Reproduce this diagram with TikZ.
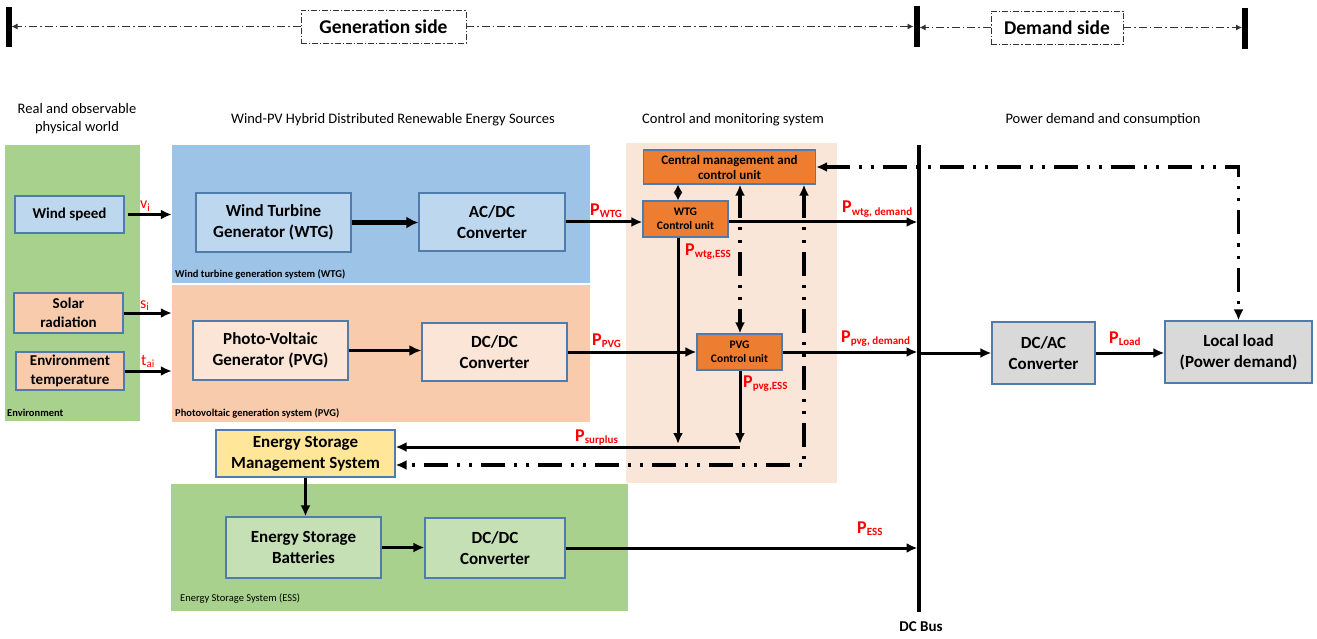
\documentclass[tikz,border=0pt]{standalone}
\usepackage{fontspec}
\setmainfont{Carlito}
\usetikzlibrary{arrows.meta}
\definecolor{envgreen}{HTML}{A9D18E}
\definecolor{windblue}{HTML}{9DC3E6}
\definecolor{lightblue}{HTML}{BDD7EE}
\definecolor{pvpeach}{HTML}{F8CBAD}
\definecolor{lightpeach}{HTML}{FBE5D6}
\definecolor{ctrlbg}{HTML}{FAE6D9}
\definecolor{orangebox}{HTML}{ED7D31}
\definecolor{yellowbox}{HTML}{FFE699}
\definecolor{essbox}{HTML}{C5E0B4}
\definecolor{greybox}{HTML}{D9D9D9}
\definecolor{boxline}{HTML}{4F7CAC}
\definecolor{labred}{HTML}{FF0000}
\newcommand\PowLab[1]{\textcolor{labred}{\bfseries\fontsize{18}{18}\selectfont P\raisebox{-2.5pt}{\fontsize{11}{11}\selectfont #1}}}
\newcommand\SigLab[2]{\textcolor{labred}{\fontsize{16}{16}\selectfont #1\raisebox{-2.5pt}{\fontsize{11}{11}\selectfont #2}}}
\begin{document}
\begin{tikzpicture}[x=1pt,y=-1pt,
  panel/.style={draw=none, inner sep=0pt},
  box/.style={draw=boxline, line width=1.2pt, align=center, inner sep=0pt,
    font=\fontsize{17}{21}\selectfont\bfseries},
  cubox/.style={draw=boxline, line width=1.2pt, align=center, inner sep=0pt, fill=orangebox,
    font=\fontsize{11.5}{14}\selectfont\bfseries},
  head/.style={align=center, inner sep=0pt, font=\fontsize{14.5}{18}\selectfont},
  plab/.style={inner sep=0pt, anchor=west, font=\fontsize{10.5}{12}\selectfont\bfseries},
  plabn/.style={inner sep=0pt, anchor=west, font=\fontsize{10.5}{12}\selectfont},
  lab/.style={inner sep=0pt, anchor=base west},
  sidebox/.style={draw=black!80, line width=0.8pt, dash pattern=on 6pt off 2pt on 1.2pt off 2pt,
    fill=white, inner sep=0pt, font=\fontsize{19.5}{22}\selectfont\bfseries},
  bd/.style={line width=0.9pt, draw=black!80, dash pattern=on 8pt off 3pt on 1.5pt off 3pt,
    -{Latex[length=6pt,width=6pt]}},
  arr/.style={line width=3pt, -{Latex[length=11pt,width=10pt]}},
  dd/.style={line width=3.2pt, dash pattern=on 24pt off 9pt on 3pt off 9pt on 3pt off 9pt}
]
\useasboundingbox (0,0) rectangle (1317,639);

% ---------- banner ----------
\draw[line width=6pt] (8.5,7) -- (8.5,47);
\draw[line width=6pt] (916.5,6) -- (916.5,47);
\draw[line width=6pt] (1245,8) -- (1245,49);
\coordinate (lbr) at (11.5,26.5);
\coordinate (mbl) at (913.5,26.5);
\coordinate (mbr) at (919.5,27.5);
\coordinate (rbl) at (1242,27.5);
\node[sidebox, minimum width=165pt, minimum height=33pt] (gen) at (383.5,26.5) {Generation side};
\node[sidebox, minimum width=132pt, minimum height=33pt] (dem) at (1057,27.5) {Demand side};
\draw[bd] (gen.west) -- (lbr);
\draw[bd] (gen.east) -- (mbl);
\draw[bd] (dem.west) -- (mbr);
\draw[bd] (dem.east) -- (rbl);

% ---------- headings ----------
\node[head] (h1) at (77,119) {Real and observable\\physical world};
\node[head] (h2) at (393,120) {Wind-PV Hybrid Distributed Renewable Energy Sources};
\node[head] (h3) at (733,120) {Control and monitoring system};
\node[head] (h4) at (1103,120) {Power demand and consumption};

% ---------- panels ----------
\node[panel, fill=envgreen, minimum width=135pt, minimum height=276pt] (envp) at (72.5,283) {};
\node[panel, fill=windblue, minimum width=418pt, minimum height=138pt] (wpan) at (381,214) {};
\node[panel, fill=pvpeach, minimum width=418pt, minimum height=137pt] (ppan) at (381,353.5) {};
\node[panel, fill=ctrlbg, minimum width=211pt, minimum height=340pt] (cpan) at (731.5,313) {};
\node[panel, fill=envgreen, minimum width=457pt, minimum height=127pt] (epan) at (399.5,547.5) {};

\node[plab] (lenv) at (7,413) {Environment};
\node[plab] (lwtg) at (175,274) {Wind turbine generation system (WTG)};
\node[plab] (lpvg) at (175,413) {Photovoltaic generation system (PVG)};
\node[plabn] (less) at (180,599) {Energy Storage System (ESS)};

% ---------- boxes ----------
\node[box, fill=lightblue, minimum width=109pt, minimum height=37pt, font=\fontsize{15}{18}\selectfont\bfseries] (wind) at (69.5,214.5) {Wind speed};
\node[box, fill=pvpeach, minimum width=109pt, minimum height=40pt, font=\fontsize{15}{19}\selectfont\bfseries] (solar) at (68.5,313) {Solar\\radiation};
\node[box, fill=pvpeach, minimum width=108pt, minimum height=38pt, font=\fontsize{15}{19}\selectfont\bfseries] (envt) at (70,371) {Environment\\temperature};

\node[box, fill=lightblue, minimum width=155pt, minimum height=59pt] (wtg) at (273.5,222.5) {Wind Turbine\\Generator (WTG)};
\node[box, fill=lightblue, minimum width=146pt, minimum height=58pt] (acdc) at (492,222) {AC/DC\\Converter};
\node[box, fill=lightpeach, minimum width=155pt, minimum height=59pt] (pvg) at (270.5,350.5) {Photo-Voltaic\\Generator (PVG)};
\node[box, fill=lightpeach, minimum width=145pt, minimum height=58pt] (dcdc1) at (494.5,352) {DC/DC\\Converter};

\node[cubox, minimum width=172pt, minimum height=34pt, font=\fontsize{13}{15}\selectfont\bfseries] (cmcu) at (729.5,167) {Central management and\\control unit};
\node[cubox, minimum width=85pt, minimum height=36pt] (wtgcu) at (685.5,219) {WTG\\Control unit};
\node[cubox, minimum width=85pt, minimum height=36pt] (pvgcu) at (739.5,352) {PVG\\Control unit};

\node[box, fill=yellowbox, minimum width=179pt, minimum height=47pt] (esms) at (305.5,453.5) {Energy Storage\\Management System};
\node[box, fill=essbox, minimum width=155pt, minimum height=61pt] (esb) at (303.5,547.5) {Energy Storage\\Batteries};
\node[box, fill=essbox, minimum width=140pt, minimum height=60pt] (dcdc2) at (495,548) {DC/DC\\Converter};

\node[box, fill=greybox, minimum width=103pt, minimum height=62pt] (dcac) at (1043.5,353) {DC/AC\\Converter};
\node[box, fill=greybox, minimum width=147pt, minimum height=62pt] (load) at (1238.5,352) {Local load\\(Power demand)};

% ---------- DC bus ----------
\coordinate (bustop) at (919,145);
\coordinate (busbot) at (919,612);
\coordinate (bus) at (917.5,0);
\draw[line width=3.2pt] (bustop) -- (busbot);
\node[inner sep=0pt, font=\fontsize{15}{18}\selectfont\bfseries] (buslab) at (921,627) {DC Bus};

% ---------- column / row coordinates ----------
\coordinate (c1) at (678,0);
\coordinate (c2) at (740,0);
\coordinate (c3) at (804,0);
\coordinate (rw) at (0,222);
\coordinate (ps) at (0,447);
\coordinate (pse) at (0,444);
\coordinate (dr) at (0,465);

% ---------- inputs ----------
\draw[arr, shorten <=3pt] (wind.east) -- (wind.east -| wpan.west);
\draw[arr] (solar.east) -- (solar.east -| ppan.west);
\draw[arr] (envt.east) -- (envt.east -| ppan.west);

% ---------- generation chain ----------
\draw[line width=4.5pt, -{Latex[length=12pt,width=12pt]}] (wtg.east) -- (wtg.east -| acdc.west);
\draw[line width=3.5pt, -{Latex[length=12pt,width=11pt]}] (pvg.east) -- (pvg.east -| dcdc1.west);
\draw[arr] (acdc.east) -- (acdc.east -| wtgcu.west);
\draw[arr] (wtgcu.east |- rw) -- (bus |- rw);
\draw[arr] (dcdc1.east) -- (pvgcu.west);
\draw[arr] (pvgcu.east) -- (pvgcu.east -| bus);

% ---------- control ----------
\draw[line width=2.5pt, {Latex[length=8pt,width=9pt]}-{Latex[length=8pt,width=9pt]}] (cmcu.south -| c1) -- (wtgcu.north -| c1);
\draw[dd, {Latex[length=11pt,width=10pt]}-{Latex[length=11pt,width=10pt]}] (cmcu.south -| c2) -- (pvgcu.north -| c2);
\draw[dd, {Latex[length=11pt,width=10pt]}-{Latex[length=11pt,width=10pt]}] (cmcu.south -| c3) -- (c3 |- dr) -- (esms.east |- dr);
\draw[dd, {Latex[length=11pt,width=10pt]}-{Latex[length=11pt,width=10pt]}] (cmcu.east) -| (load.north);

% ---------- storage paths ----------
\draw[arr] (wtgcu.south -| c1) -- (c1 |- pse);
\draw[arr] (pvgcu.south -| c2) -- (c2 |- pse);
\draw[arr] (c2 |- ps) -- (esms.east |- ps);
\draw[arr] (esms.south) -- (esms.south |- esb.north);
\draw[arr] (esb.east) -- (esb.east -| dcdc2.west);
\draw[arr] (dcdc2.east) -- (dcdc2.east -| bus);

% ---------- demand ----------
\draw[arr] (dcac.west -| bus) -- (dcac.west);
\draw[arr] (dcac.east) -- (dcac.east -| load.west);

% ---------- labels ----------
\node[lab] (lv) at (140,209) {\SigLab{v}{i}};
\node[lab] (ls) at (140,308) {\SigLab{s}{i}};
\node[lab] (lt) at (141,365) {\SigLab{t}{ai}};
\node[lab] (lpwtg) at (590,215) {\PowLab{WTG}};
\node[lab] (lppvg) at (592,345) {\PowLab{PVG}};
\node[lab] (lpwd) at (842,213) {\PowLab{wtg, demand}};
\node[lab] (lpwe) at (685,255) {\PowLab{wtg,ESS}};
\node[lab] (lppd) at (841,342) {\PowLab{pvg, demand}};
\node[lab] (lppe) at (743,387) {\PowLab{pvg,ESS}};
\node[lab] (lpsu) at (575,441) {\PowLab{surplus}};
\node[lab] (lpes) at (857,533) {\PowLab{ESS}};
\node[lab] (lpld) at (1109,343) {\PowLab{Load}};
\end{tikzpicture}
\end{document}
